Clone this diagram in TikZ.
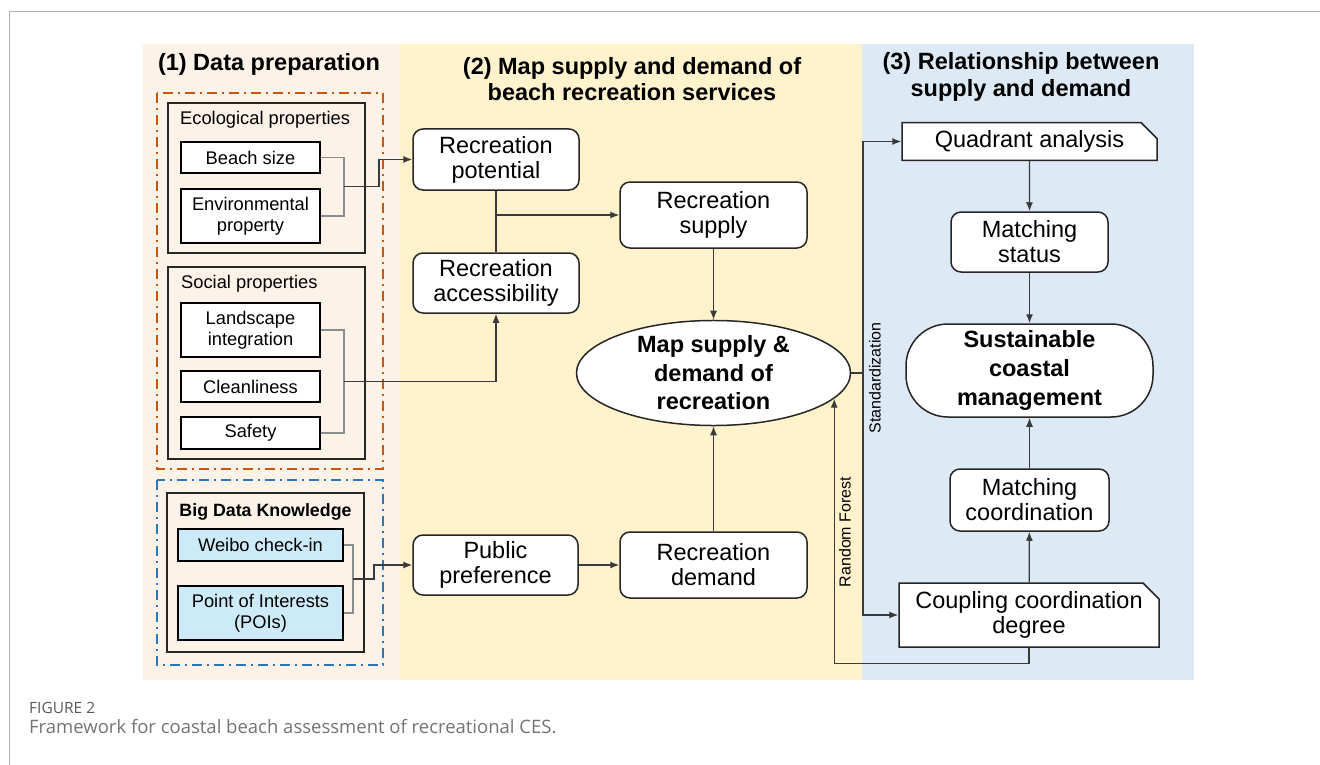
\documentclass[tikz,border=0pt]{standalone}
\usepackage{fontspec}
\setmainfont{Liberation Sans}
\newfontfamily\capfont{Open Sans}
\usetikzlibrary{arrows.meta,shapes.geometric,shapes.misc}

\definecolor{peach}{HTML}{FCF2E8}
\definecolor{cream}{HTML}{FFF2CC}
\definecolor{skyback}{HTML}{DDEAF6}
\definecolor{rust}{HTML}{C65911}
\definecolor{steel}{HTML}{2E75B6}
\definecolor{icebox}{HTML}{CDEAF8}
\definecolor{wire}{HTML}{3A3A3A}
\definecolor{pairline}{HTML}{8C8C8C}

\tikzset{
	bigtext/.style={font=\fontsize{23.5}{25}\selectfont},
	smalltext/.style={font=\fontsize{18.3}{21}\selectfont},
	rbox/.style={draw=black!85, line width=1.5pt, fill=white, rounded corners=10pt, align=center, inner sep=0pt, bigtext},
	cbox/.style={chamfered rectangle, chamfered rectangle corners=north east, chamfered rectangle xsep=8pt, chamfered rectangle ysep=8pt, draw=black!85, line width=1.5pt, fill=white, align=center, inner sep=0pt, bigtext},
	sbox/.style={draw=black, line width=1.5pt, fill=white, align=center, inner sep=0pt, smalltext},
	groupbox/.style={draw=black!85, line width=1.5pt},
	dashframe/.style={line width=2pt, dash pattern=on 10pt off 5pt on 2pt off 5pt},
	flow/.style={draw=wire, line width=1.2pt, -{Latex[length=9pt,width=7pt]}},
	link/.style={draw=wire, line width=1.2pt},
	pair/.style={draw=pairline, line width=1.2pt},
	paneltitle/.style={font=\bfseries\fontsize{23.5}{26.5}\selectfont, align=center},
	sidelabel/.style={font=\fontsize{16}{18}\selectfont, rotate=90, inner sep=0pt},
}

\begin{document}
\begin{tikzpicture}[x=1pt,y=-1pt]
	\useasboundingbox (0,0) rectangle (1320,765);
	\draw[black!30, line width=1pt] (9,765) -- (9,12) -- (1320,12);

	\foreach \xa/\xb/\c in {143/400/peach,400/862/cream,862/1194/skyback}
		\fill[\c] (\xa,44) rectangle (\xb,680);

	\node[paneltitle] (t1) at (269,64) {(1) Data preparation};
	\node[paneltitle] (t2) at (632,79) {(2) Map supply and demand of\\beach recreation services};
	\node[paneltitle] (t3) at (1021,77) {(3) Relationship between\\supply and demand};

	% data preparation
	\draw[dashframe, rust] (157,93) rectangle (383,469);
	\draw[dashframe, steel] (157,480) rectangle (383,665);
	\draw[groupbox] (168,103) rectangle (365,253);
	\draw[groupbox] (168,267) rectangle (365,459);
	\draw[groupbox, fill=peach] (167,493) rectangle (364,652);

	\node[smalltext, anchor=west, inner sep=0pt] (ecolabel) at (180,120) {Ecological properties};
	\node[smalltext, anchor=west, inner sep=0pt] (soclabel) at (181,284) {Social properties};
	\node[smalltext, font=\bfseries\fontsize{17.8}{20}\selectfont, inner sep=0pt] (biglabel) at (265.5,512) {Big Data Knowledge};

	\node[sbox, minimum width=139pt, minimum height=31pt] (beach) at (250.5,157.5) {Beach size};
	\node[sbox, minimum width=139pt, minimum height=54pt] (env) at (250.5,216) {Environmental\\property};
	\node[sbox, minimum width=139pt, minimum height=54pt] (landscape) at (250.5,330) {Landscape\\integration};
	\node[sbox, minimum width=139pt, minimum height=31pt] (clean) at (250.5,386.5) {Cleanliness};
	\node[sbox, minimum width=139pt, minimum height=32pt] (safety) at (250.5,433) {Safety};
	\node[sbox, fill=icebox, minimum width=165pt, minimum height=32pt] (weibo) at (260.5,545) {Weibo check-in};
	\node[sbox, fill=icebox, minimum width=165pt, minimum height=54pt] (poi) at (260.5,613) {Point of Interests\\(POIs)};

	% supply and demand
	\node[rbox, minimum width=166pt, minimum height=61pt] (potential) at (496,159.5) {Recreation\\potential};
	\node[rbox, minimum width=166pt, minimum height=60pt] (access) at (496,283) {Recreation\\accessibility};
	\node[rbox, minimum width=187pt, minimum height=66pt] (supply) at (713.5,215) {Recreation\\supply};
	\node[rbox, minimum width=165pt, minimum height=60pt] (preference) at (495.5,565) {Public\\preference};
	\node[rbox, minimum width=187pt, minimum height=66pt] (demand) at (713.5,565) {Recreation\\demand};
	\node[ellipse, draw=black!85, line width=1.5pt, fill=white, inner sep=0pt, minimum width=274pt, minimum height=104pt, align=center, font=\bfseries\fontsize{23.5}{28.5}\selectfont] (map) at (713.5,373) {Map supply \&\\demand of\\recreation};

	% relationship
	\node[cbox, minimum width=255pt, minimum height=37pt] (quadrant) at (1029.5,141.5) {Quadrant analysis};
	\node[rbox, minimum width=157pt, minimum height=60pt] (status) at (1029.5,242) {Matching\\status};
	\node[rbox, rounded corners=42pt, minimum width=247pt, minimum height=93pt, font=\bfseries\fontsize{23.5}{29}\selectfont] (goal) at (1029.5,370.5) {Sustainable\\coastal\\management};
	\node[rbox, minimum width=159pt, minimum height=62pt] (coordination) at (1029.5,500) {Matching\\coordination};
	\node[cbox, minimum width=260pt, minimum height=64pt] (coupling) at (1029,615) {Coupling coordination\\degree};

	\coordinate (ecojoin) at (344,186.5);
	\coordinate (socjoin) at (344,381.5);
	\coordinate (bigjoin) at (353,579);
	\coordinate (stdjoin) at (863,373);

	\draw[pair] (beach.east) -| (ecojoin) |- (env.east);
	\draw[flow] (ecojoin) -- ++(35,0) |- (potential.west);
	\draw[pair] (landscape.east) -| (socjoin) |- (safety.east);
	\draw[flow] (socjoin) -| (access.south);
	\draw[pair] (weibo.east) -| (bigjoin) |- (poi.east);
	\draw[flow] (bigjoin) -- ++(21,0) |- (preference.west);

	\draw[link] (potential.south) -- (access.north);
	\draw[flow] (potential.south |- supply.west) -- (supply.west);
	\draw[flow] (supply) -- (map);
	\draw[flow] (preference) -- (demand);
	\draw[flow] (demand) -- (map);

	\draw[flow] (map.east) -- (stdjoin) |- (quadrant.west);
	\draw[flow] (stdjoin) |- (coupling.west);
	\draw[flow] (coupling.south) -- ++(0,16) -| (map.-12);
	\node[sidelabel] (stdlabel) at (875,378) {Standardization};
	\node[sidelabel] (rflabel) at (845,532) {Random Forest};

	\draw[flow] (quadrant) -- (status);
	\draw[flow] (status) -- (goal);
	\draw[flow] (coordination) -- (goal);
	\draw[flow] (coupling) -- (coordination);

	\node[anchor=west, inner sep=0pt, font=\capfont\fontsize{15.5}{18}\selectfont, text=black!65] (fignum) at (29,708) {FIGURE 2};
	\node[anchor=west, inner sep=0pt, font=\capfont\fontsize{18.5}{21}\selectfont, text=black!55] (caption) at (29,727) {Framework for coastal beach assessment of recreational CES.};
\end{tikzpicture}
\end{document}
